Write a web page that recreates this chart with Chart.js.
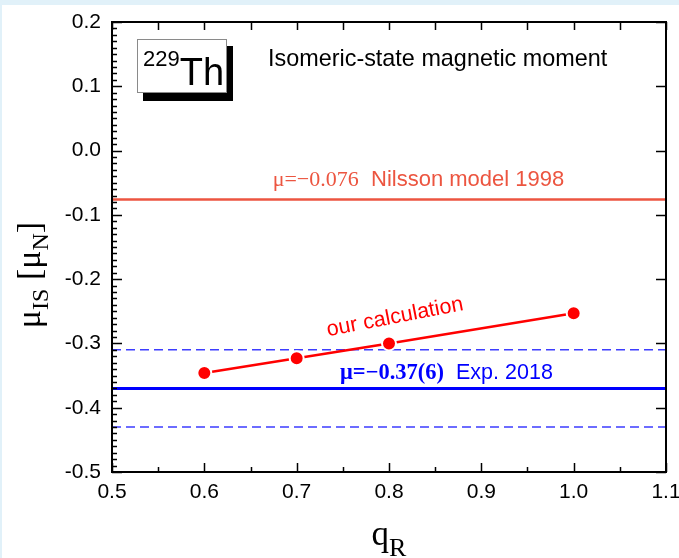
<!DOCTYPE html>
<html>
<head>
<meta charset="utf-8">
<script src="https://cdn.jsdelivr.net/npm/chart.js@4/dist/chart.umd.min.js"></script>
<style>
  html, body { margin: 0; padding: 0; background: #ffffff; }
  #wrap { width: 679px; height: 558px; }
</style>
</head>
<body>
<div id="wrap"><canvas id="c" width="679" height="558"></canvas></div>
<script>
// Isomeric-state magnetic moment of 229Th versus the rotational g-factor quenching q_R
const qR = [0.6, 0.7, 0.8, 1.0];
const muCalc = [-0.346, -0.323, -0.300, -0.253];

// reference values
const muNilsson = -0.076;      // Nilsson model 1998
const muExp = -0.37;           // Exp. 2018
const muExpErr = 0.06;         // quoted uncertainty (6)

// axis ranges and tick spacing
const xRange = [0.5, 1.1];
const yRange = [-0.5, 0.2];
const xMajor = 0.1, xMinor = 0.05;
const yMajor = 0.1, yMinor = 0.01;

const SANS = "'Liberation Sans', Arial, sans-serif";
const SERIF = "'Liberation Serif', 'Times New Roman', serif";

const fmt1 = v => (Math.abs(v) < 1e-9 ? '0.0' : v.toFixed(1));

function hLine(y) {
  return [{ x: xRange[0], y: y }, { x: xRange[1], y: y }];
}

// page background and white panel
const backdrop = {
  id: 'backdrop',
  beforeDraw(chart) {
    const ctx = chart.ctx;
    ctx.save();
    ctx.fillStyle = '#e1f1f9';
    ctx.fillRect(0, 0, chart.width, chart.height);
    ctx.fillStyle = '#ffffff';
    ctx.fillRect(2, 5, chart.width - 2, chart.height - 5);
    ctx.restore();
  }
};

// draw a run of text pieces (font, text, baseline shift) starting at x
function drawRuns(ctx, runs, x, y, color) {
  ctx.fillStyle = color;
  ctx.textBaseline = 'alphabetic';
  ctx.textAlign = 'left';
  for (const r of runs) {
    ctx.font = r.font;
    ctx.fillText(r.text, x, y + (r.dy || 0));
    x += ctx.measureText(r.text).width;
  }
  return x;
}
function runsWidth(ctx, runs) {
  let w = 0;
  for (const r of runs) { ctx.font = r.font; w += ctx.measureText(r.text).width; }
  return w;
}

// frame, inward ticks, annotations and axis titles
const decorations = {
  id: 'decorations',
  afterDraw(chart) {
    const ctx = chart.ctx;
    const a = chart.chartArea;
    const xs = chart.scales.x, ys = chart.scales.y;
    ctx.save();

    // inward tick marks
    ctx.strokeStyle = '#000';
    ctx.lineWidth = 1.5;
    ctx.beginPath();
    const nx = Math.round((xRange[1] - xRange[0]) / xMinor);
    for (let i = 0; i <= nx; i++) {
      const v = xRange[0] + i * xMinor;
      const px = Math.round(xs.getPixelForValue(v)) + 0.5;
      const major = i % 2 === 0;
      ctx.moveTo(px, a.bottom); ctx.lineTo(px, a.bottom - (major ? 9 : 5));
      ctx.moveTo(px, a.top); ctx.lineTo(px, a.top + 8);
    }
    const ny = Math.round((yRange[1] - yRange[0]) / yMinor);
    for (let i = 0; i <= ny; i++) {
      const v = yRange[0] + i * yMinor;
      const py = Math.round(ys.getPixelForValue(v)) + 0.5;
      const major = i % 10 === 0;
      ctx.moveTo(a.left, py); ctx.lineTo(a.left + (major ? 10 : 5), py);
      if (major) { ctx.moveTo(a.right, py); ctx.lineTo(a.right - 10, py); }
    }
    ctx.stroke();

    // frame
    ctx.lineWidth = 2;
    ctx.strokeRect(a.left, a.top, a.right - a.left, a.bottom - a.top);

    // nucleus label box with drop shadow
    ctx.fillStyle = '#000';
    ctx.fillRect(143, 46, 90, 55);
    ctx.fillStyle = '#fff';
    ctx.fillRect(137, 39, 90, 54);
    ctx.strokeStyle = '#8a8a8a';
    ctx.lineWidth = 1;
    ctx.strokeRect(137.5, 39.5, 89, 53);
    drawRuns(ctx, [
      { font: `22px ${SANS}`, text: '229', dy: -19 },
      { font: `38px ${SANS}`, text: 'Th' }
    ], 143, 85, '#000');

    // panel title
    ctx.font = `23.4px ${SANS}`;
    ctx.fillStyle = '#000';
    ctx.fillText('Isomeric-state magnetic moment', 268, 66);

    // Nilsson model label
    drawRuns(ctx, [
      { font: `22px ${SERIF}`, text: 'μ=−0.076' },
      { font: `22px ${SANS}`, text: '  Nilsson model 1998' }
    ], xs.getPixelForValue(0.674), ys.getPixelForValue(muNilsson) - 13, '#ec5540');

    // experimental label
    drawRuns(ctx, [
      { font: `bold 22.5px ${SERIF}`, text: 'μ=−0.37(6)' },
      { font: `21.5px ${SANS}`, text: '  Exp. 2018' }
    ], xs.getPixelForValue(0.747), ys.getPixelForValue(muExp) - 9, '#0000ff');

    // calculation label, tilted along the curve
    ctx.save();
    ctx.translate(xs.getPixelForValue(0.734), ys.getPixelForValue(-0.289));
    ctx.rotate(-11 * Math.PI / 180);
    ctx.font = `21.5px ${SANS}`;
    ctx.fillStyle = '#ff0000';
    ctx.fillText('our calculation', 0, 0);
    ctx.restore();

    // y-axis title
    const yRuns = [
      { font: `34px ${SERIF}`, text: 'μ' },
      { font: `24px ${SERIF}`, text: 'IS', dy: 8 },
      { font: `34px ${SERIF}`, text: ' [μ' },
      { font: `24px ${SERIF}`, text: 'N', dy: 8 },
      { font: `34px ${SERIF}`, text: ']' }
    ];
    ctx.save();
    ctx.translate(40, 275);
    ctx.rotate(-Math.PI / 2);
    drawRuns(ctx, yRuns, -runsWidth(ctx, yRuns) / 2, 0, '#000');
    ctx.restore();

    // x-axis title
    const xRuns = [
      { font: `35px ${SERIF}`, text: 'q' },
      { font: `26px ${SERIF}`, text: 'R', dy: 11 }
    ];
    const cx = (a.left + a.right) / 2;
    drawRuns(ctx, xRuns, cx - runsWidth(ctx, xRuns) / 2, 545, '#000');

    ctx.restore();
  }
};

new Chart(document.getElementById('c'), {
  type: 'scatter',
  data: {
    datasets: [
      {
        label: 'our calculation',
        data: qR.map((q, i) => ({ x: q, y: muCalc[i] })),
        showLine: true,
        borderColor: '#ff0000',
        borderWidth: 2.5,
        backgroundColor: '#ff0000',
        pointRadius: 7,
        pointBorderColor: '#ffffff',
        pointBorderWidth: 2,
        pointBackgroundColor: '#ff0000'
      },
      {
        label: 'Nilsson model 1998',
        data: hLine(muNilsson),
        showLine: true,
        borderColor: '#ec5540',
        borderWidth: 2.5,
        pointRadius: 0
      },
      {
        label: 'Exp. 2018',
        data: hLine(muExp),
        showLine: true,
        borderColor: '#0000ff',
        borderWidth: 3,
        pointRadius: 0
      },
      {
        label: 'Exp. 2018 upper',
        data: hLine(muExp + muExpErr),
        showLine: true,
        borderColor: '#3d3dff',
        borderWidth: 1.5,
        borderDash: [9, 5],
        pointRadius: 0
      },
      {
        label: 'Exp. 2018 lower',
        data: hLine(muExp - muExpErr),
        showLine: true,
        borderColor: '#3d3dff',
        borderWidth: 1.5,
        borderDash: [9, 5],
        pointRadius: 0
      }
    ]
  },
  options: {
    responsive: false,
    animation: false,
    devicePixelRatio: 1,
    layout: { padding: { left: 0, top: 22, right: 0, bottom: 0 } },
    plugins: { legend: { display: false }, tooltip: { enabled: false } },
    scales: {
      x: {
        type: 'linear',
        min: xRange[0],
        max: xRange[1],
        grid: { display: false, drawTicks: false },
        border: { display: false },
        ticks: {
          stepSize: xMajor,
          padding: 8,
          color: '#000',
          font: { family: SANS, size: 21 },
          maxRotation: 0,
          callback: v => fmt1(v)
        },
        afterFit: s => { s.height = 86; s.paddingLeft = 0; s.paddingRight = 13; }
      },
      y: {
        type: 'linear',
        min: yRange[0],
        max: yRange[1],
        grid: { display: false, drawTicks: false },
        border: { display: false },
        ticks: {
          stepSize: yMajor,
          padding: 11,
          color: '#000',
          font: { family: SANS, size: 21 },
          callback: v => fmt1(v)
        },
        afterFit: s => { s.width = 112; s.paddingTop = 0; s.paddingBottom = 0; }
      }
    }
  },
  plugins: [backdrop, decorations]
});
</script>
</body>
</html>
